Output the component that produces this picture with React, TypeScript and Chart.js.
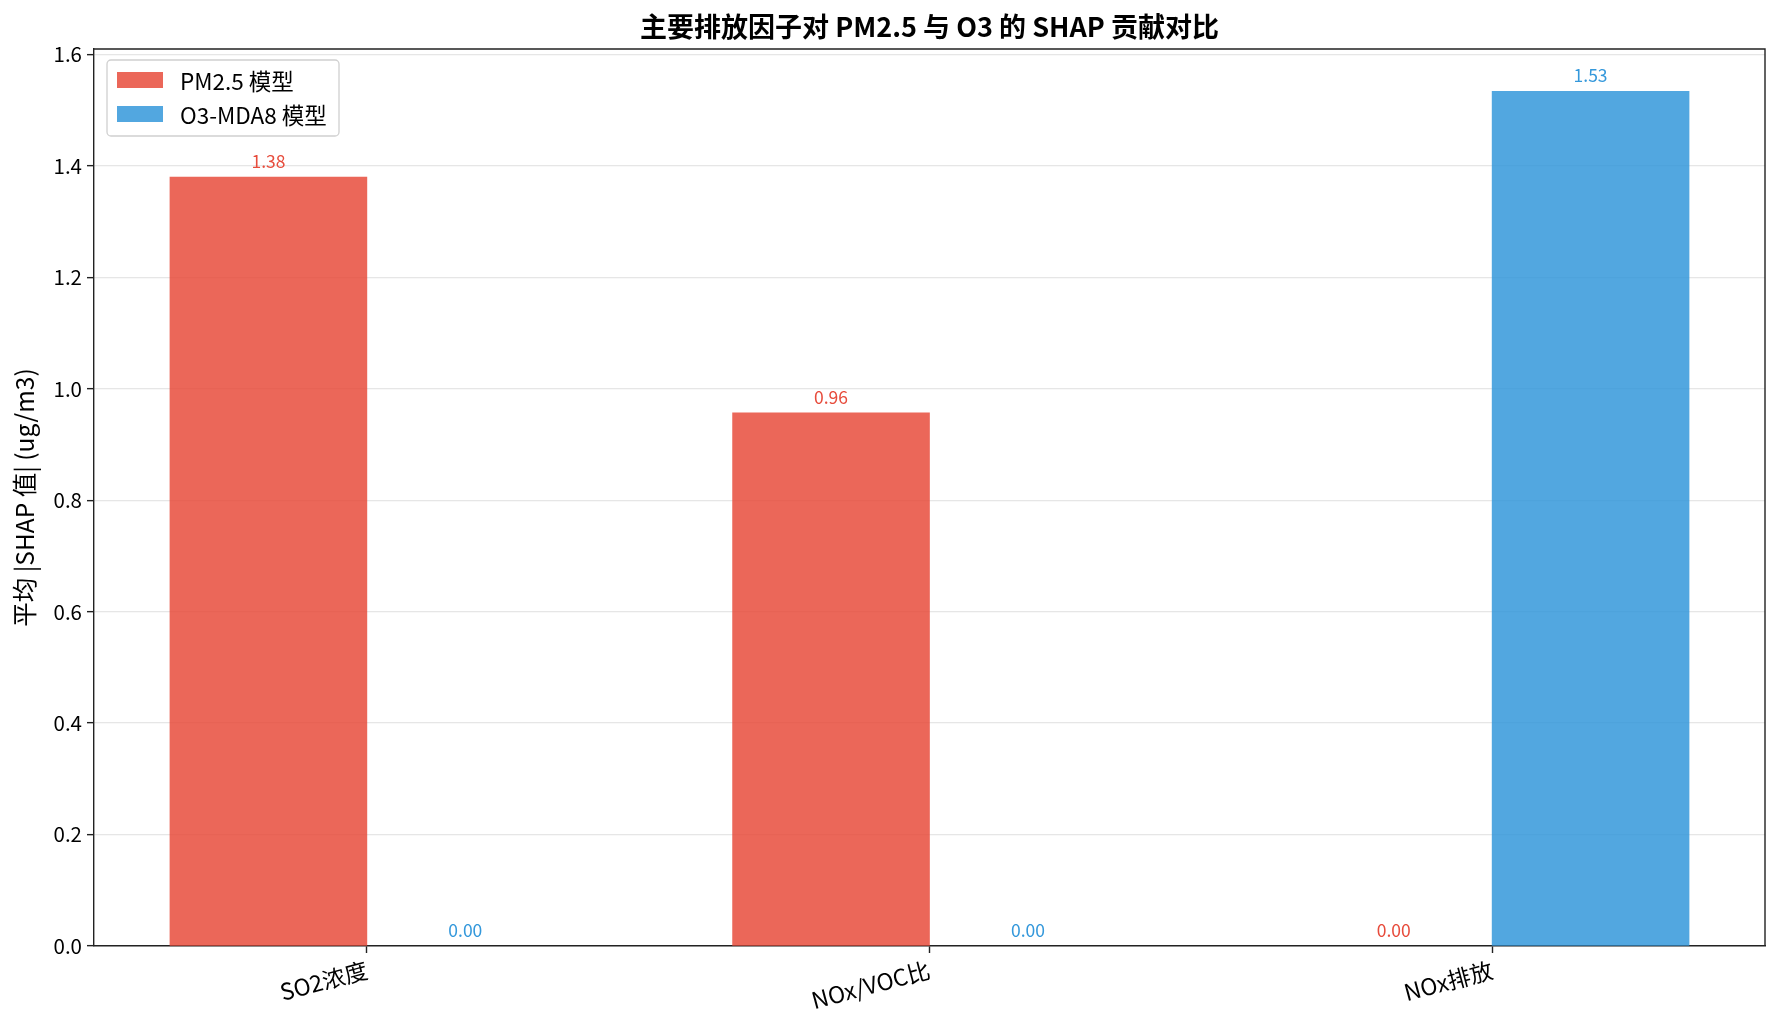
import { useEffect, useRef } from "react";
import { Chart, registerables } from "chart.js";

Chart.register(...registerables);

const categories = ["SO2浓度", "NOx/VOC比", "NOx排放"];
const pm25Values = [1.38, 0.957, 0];
const o3Values = [0, 0, 1.534];
const seriesLabels = ["PM2.5 模型", "O3-MDA8 模型"];
const yTicks = [0, 0.2, 0.4, 0.6, 0.8, 1.0, 1.2, 1.4, 1.6];
const titleText = "主要排放因子对 PM2.5 与 O3 的 SHAP 贡献对比";
const yTitleText = "平均 |SHAP 值| (ug/m3)";
const barWidth = 0.35;

const FONT = "'Noto Sans CJK SC', 'Noto Sans', sans-serif";
const fills = ["rgba(231,76,60,0.85)", "rgba(52,152,219,0.85)"];
const labelColors = ["#e74c3c", "#3498db"];
const axisColor = "#222222";

const overlay = {
  id: "overlay",
  afterDatasetsDraw(chart: any) {
    const { ctx, scales } = chart;
    ctx.save();
    ctx.font = `17.5px ${FONT}`;
    ctx.textAlign = "center";
    ctx.textBaseline = "bottom";
    chart.data.datasets.forEach((ds: any, di: number) => {
      const meta = chart.getDatasetMeta(di);
      ctx.fillStyle = labelColors[di];
      meta.data.forEach((bar: any, i: number) => {
        const v = ds.data[i].y;
        ctx.fillText(v.toFixed(2), bar.x, scales.y.getPixelForValue(v) - 7);
      });
    });
    ctx.restore();
  },
  afterDraw(chart: any) {
    const { ctx, chartArea: ca } = chart;
    ctx.save();
    // top & right spines
    ctx.strokeStyle = axisColor;
    ctx.lineWidth = 1.4;
    ctx.beginPath();
    ctx.moveTo(ca.left, ca.top);
    ctx.lineTo(ca.right, ca.top);
    ctx.lineTo(ca.right, ca.bottom);
    ctx.stroke();
    // title
    ctx.fillStyle = "#000";
    ctx.font = `bold 27px ${FONT}`;
    ctx.textAlign = "center";
    ctx.textBaseline = "middle";
    ctx.fillText(titleText, (ca.left + ca.right) / 2, ca.top - 22);
    // legend
    const bx = ca.left + 13;
    const by = ca.top + 11;
    const bw = 232;
    const bh = 76;
    ctx.beginPath();
    ctx.roundRect(bx, by, bw, bh, 4);
    ctx.fillStyle = "rgba(255,255,255,0.8)";
    ctx.fill();
    ctx.strokeStyle = "#d0d0d0";
    ctx.lineWidth = 1.3;
    ctx.stroke();
    ctx.font = `22.5px ${FONT}`;
    ctx.textAlign = "left";
    chart.data.datasets.forEach((ds: any, di: number) => {
      const cy = by + 20 + di * 34;
      ctx.fillStyle = fills[di];
      ctx.fillRect(bx + 10, cy - 8, 46, 16);
      ctx.fillStyle = "#000";
      ctx.fillText(ds.label, bx + 73, cy + 1);
    });
    ctx.restore();
  },
};

export default function App() {
  const ref = useRef<HTMLCanvasElement | null>(null);
  useEffect(() => {
    if (!ref.current) return;
    Chart.defaults.font.family = FONT;
    const chart = new Chart(ref.current, {
      type: "bar",
      data: {
        datasets: [pm25Values, o3Values].map((vals, di) => ({
          label: seriesLabels[di],
          data: categories.map((_, i) => ({
            x: i + (di === 0 ? -barWidth / 2 : barWidth / 2),
            y: vals[i],
          })),
          backgroundColor: (c: any) =>
            c.raw && c.raw.y === 0 ? "rgba(0,0,0,0)" : fills[di],
          borderWidth: 0,
          grouped: false,
          barPercentage: 1,
          categoryPercentage: 1,
        })),
      },
      options: {
        responsive: false,
        animation: false,
        layout: { padding: { top: 49, right: 15, bottom: 0, left: 0 } },
        plugins: {
          legend: { display: false },
          title: { display: false },
          tooltip: { enabled: false },
        },
        scales: {
          x: {
            type: "linear",
            min: -0.485,
            max: 2.485,
            offset: false,
            z: 1,
            afterBuildTicks: (scale: any) => {
              scale.ticks = categories.map((_, i) => ({ value: i }));
            },
            afterFit: (scale: any) => {
              scale.height = 84;
            },
            ticks: {
              autoSkip: false,
              minRotation: 15,
              maxRotation: 15,
              padding: 3,
              color: "#000",
              font: { size: 23, family: FONT },
              callback: (v: any) => categories[Math.round(Number(v))] ?? "",
            },
            grid: {
              offset: false,
              drawOnChartArea: false,
              drawTicks: true,
              tickLength: 7,
              tickColor: axisColor,
              tickWidth: 1.4,
            },
            border: { display: true, color: axisColor, width: 1.4 },
          },
          y: {
            min: 0,
            max: 1.61,
            z: 1,
            afterBuildTicks: (scale: any) => {
              scale.ticks = yTicks.map((v) => ({ value: v }));
            },
            afterFit: (scale: any) => {
              scale.width = 94;
            },
            ticks: {
              padding: 5,
              color: "#000",
              font: { size: 20.5, family: FONT },
              callback: (v: any) => Number(v).toFixed(1),
            },
            grid: {
              color: "rgba(200,200,200,0.45)",
              lineWidth: 1.3,
              tickLength: 7,
              tickColor: axisColor,
              tickWidth: 1.4,
            },
            border: { display: true, color: axisColor, width: 1.4 },
            title: {
              display: true,
              text: yTitleText,
              color: "#000",
              font: { size: 24.5, family: FONT },
              padding: { top: 10, bottom: 0 },
            },
          },
        },
      },
      plugins: [overlay],
    } as any);
    return () => chart.destroy();
  }, []);
  return (
    <div style={{ position: "fixed", left: 0, top: 0, width: 1780, height: 1030, background: "#fff" }}>
      <canvas ref={ref} width={1780} height={1030} style={{ display: "block" }} />
    </div>
  );
}
